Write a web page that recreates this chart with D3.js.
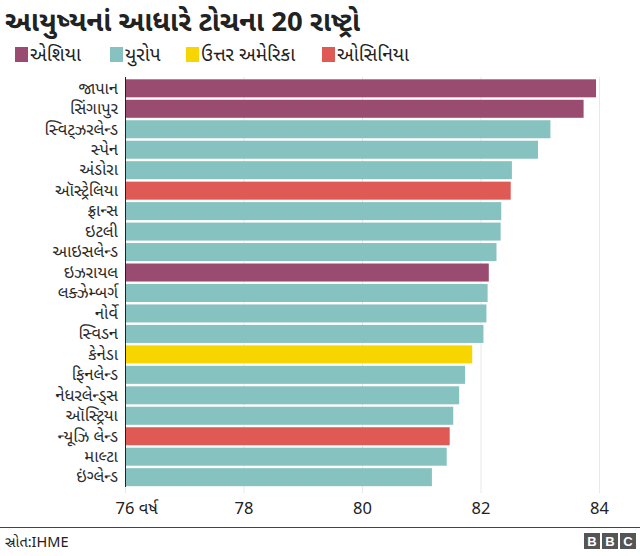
<!DOCTYPE html>
<html>
<head>
<meta charset="utf-8">
<script src="https://cdn.jsdelivr.net/npm/d3@7"></script>
<style>
  body { margin: 0; background: #fff; }
  svg { font-family: "Noto Sans Gujarati", "Noto Sans", "Lohit Gujarati", sans-serif; }
</style>
</head>
<body>
<svg width="640" height="556"></svg>
<script>
var width = 640;
var height = 556;

// data
var countries = ["જાપાન", "સિંગાપુર", "સ્વિટ્ઝરલેન્ડ", "સ્પેન", "અંડોરા", "ઑસ્ટ્રેલિયા", "ફ્રાન્સ", "ઇટલી", "આઇસલેન્ડ", "ઇઝરાયલ",
                 "લક્ઝેમ્બર્ગ", "નોર્વે", "સ્વિડન", "કેનેડા", "ફિનલેન્ડ", "નેધરલેન્ડ્સ", "ઑસ્ટ્રિયા", "ન્યૂઝિ લેન્ડ", "માલ્ટા", "ઇંગ્લેન્ડ"];
var lifeExpectancy = [83.95, 83.74, 83.18, 82.97, 82.53, 82.51, 82.35, 82.34, 82.27, 82.14,
                      82.12, 82.10, 82.05, 81.86, 81.74, 81.64, 81.54, 81.48, 81.43, 81.18];
var regionOf = ["asia", "asia", "europe", "europe", "europe", "oceania", "europe", "europe", "europe", "asia",
                "europe", "europe", "europe", "namerica", "europe", "europe", "europe", "oceania", "europe", "europe"];
var regions = ["asia", "europe", "namerica", "oceania"];
var regionNames = ["એશિયા", "યુરોપ", "ઉત્તર અમેરિકા", "ઓસિનિયા"];
var tickValues = [76, 78, 80, 82, 84];

var colorScale = d3.scaleOrdinal()
                   .domain(regions)
                   .range(["#994b70", "#86c2c0", "#f6d500", "#df5a55"]);

var data = countries.map((c, i) => ({name: c, value: lifeExpectancy[i], region: regionOf[i]}));

var xScale = d3.scaleLinear()
               .domain([76, 84])
               .range([125, 599]);

var yScale = d3.scaleBand()
               .domain(countries)
               .range([78.5, 487])
               .paddingInner(0.12)
               .paddingOuter(0.04);

var svg = d3.select("svg");

// title
svg.append("text")
   .attr("x", 5)
   .attr("y", 31)
   .attr("font-size", 27.5)
   .attr("font-weight", "bold")
   .attr("fill", "#222")
   .text("આયુષ્યનાં આધારે ટોચના 20 રાષ્ટ્રો");

// legend
var legendX = [15, 110, 186, 322];
var legend = svg.selectAll(".legend")
  .data(regions)
  .enter()
  .append("g")
    .attr("class", "legend")
    .attr("transform", (d, i) => "translate(" + legendX[i] + ",47)");

legend.append("rect")
  .attr("width", 13)
  .attr("height", 15)
  .attr("fill", d => colorScale(d));

legend.append("text")
  .attr("x", 15)
  .attr("y", 14)
  .attr("font-size", 19)
  .attr("fill", "#222")
  .text((d, i) => regionNames[i]);

// gridlines
var xAxis = d3.axisBottom(xScale)
              .tickValues(tickValues)
              .tickSize(-(493 - 77))
              .tickFormat(d => d === 76 ? "76 વર્ષ" : d);

var gx = svg.append("g")
  .attr("transform", "translate(0,493)")
  .call(xAxis);
gx.select(".domain").remove();
gx.selectAll(".tick line").attr("stroke", "#e8e8e8");
gx.selectAll(".tick text")
  .attr("y", 9)
  .attr("font-size", 16.5)
  .attr("fill", "#222")
  .attr("font-family", "'Noto Sans Gujarati', 'Noto Sans', sans-serif");
gx.selectAll(".tick").filter(d => d === 76).select("text")
  .attr("text-anchor", "start")
  .attr("dx", -10);

// bars
svg.selectAll(".bar")
  .data(data)
  .enter()
  .append("rect")
    .attr("class", "bar")
    .attr("x", xScale(76))
    .attr("y", d => yScale(d.name))
    .attr("width", d => xScale(d.value) - xScale(76))
    .attr("height", yScale.bandwidth())
    .attr("fill", d => colorScale(d.region));

// country labels + axis line
var yAxis = d3.axisLeft(yScale).tickSize(0).tickPadding(7);
var gy = svg.append("g")
  .attr("transform", "translate(" + xScale(76) + ",0)")
  .call(yAxis);
gy.select(".domain").attr("d", "M0.5,77V487").attr("stroke", "#222");
gy.selectAll(".tick text")
  .attr("font-size", 16.5)
  .attr("fill", "#2a2a2a")
  .attr("font-family", "'Noto Sans Gujarati', 'Noto Sans', sans-serif");

// footer
svg.append("line")
  .attr("x1", 0).attr("x2", 640)
  .attr("y1", 527.5).attr("y2", 527.5)
  .attr("stroke", "#444");

svg.append("text")
  .attr("x", 5)
  .attr("y", 547)
  .attr("font-size", 14.5)
  .attr("fill", "#222")
  .text("સ્રોત:IHME");

var logo = svg.selectAll(".logo")
  .data(["B", "B", "C"])
  .enter()
  .append("g")
    .attr("class", "logo")
    .attr("transform", (d, i) => "translate(" + (584 + i * 18) + ",533)");
logo.append("rect").attr("width", 16).attr("height", 16).attr("fill", "#555");
logo.append("text")
  .attr("x", 8).attr("y", 13)
  .attr("text-anchor", "middle")
  .attr("font-size", 13)
  .attr("font-weight", "bold")
  .attr("font-family", "Arial, 'Liberation Sans', sans-serif")
  .attr("fill", "#fff")
  .text(d => d);
</script>
</body>
</html>
